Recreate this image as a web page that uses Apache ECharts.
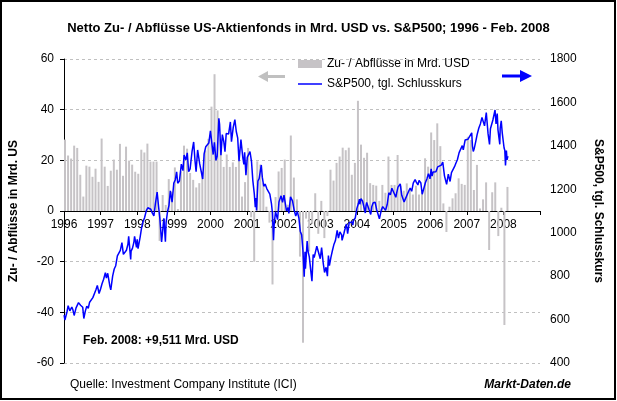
<!DOCTYPE html>
<html>
<head>
<meta charset="utf-8">
<script src="https://cdn.jsdelivr.net/npm/echarts@6/dist/echarts.min.js"></script>
<style>
  html, body { margin: 0; padding: 0; background: #fff; }
  #chart { width: 617px; height: 401px; }
</style>
</head>
<body>
<div id="chart"></div>
<script>
  // Monatliche Netto-Zu-/Abflüsse US-Aktienfonds (Mrd. USD), ab Jan. 1996
  var flowStartYear = 1996;
  var fundFlows = [
    28.2, 21.9, 20.7, 25.8, 24.9, 14.3, 5.7, 17.9, 17.5, 13.5, 16.7, 11.5,   // 1996
    28.6, 17.5, 9.9, 15.9, 20.3, 16.3, 26.5, 13.9, 25.4, 19.9, 18.3, 15.5,   // 1997
    14.7, 24.2, 23.1, 26.6, 19.5, 19.5, 19.5, -11.8, 6.3, 2.4, 12.6, 7.6,    // 1998
    17.2, 0.8, 15.6, 25.8, 24.6, 15.0, 12.3, 9.3, 11.0, 15.6, 23.9, 28.5,    // 1999
    41.2, 54.0, 39.7, 28.2, 17.4, 22.3, 17.4, 19.2, 17.4, 24.2, 5.7, 11.4,   // 2000
    24.9, -2.5, -20.0, 19.6, 18.3, 11.0, 1.7, -4.6, -29.0, 5.5, 15.6, 17.0,  // 2001
    20.3, 2.5, 29.8, 13.2, 4.6, -18.0, -52.0, -3.0, -16.0, -5.0, 7.0, -9.0,  // 2002
    4.0, -10.7, -2.0, 16.3, 12.0, 19.0, 21.5, 25.0, 24.0, 25.0, 14.3, 19.0,  // 2003
    43.5, 26.2, 21.0, 23.0, 11.0, 10.3, 10.0, 4.0, 10.3, 7.2, 21.5, 10.3,    // 2004
    10.3, 22.1, 10.0, 8.0, 10.9, 8.5, 6.5, 10.0, 6.5, 7.5, 20.8, 17.5,       // 2005
    31.0, 28.0, 34.6, 25.6, 3.0, -8.3, 1.7, 5.0, 7.0, 12.9, 10.7, 10.3,      // 2006
    29.3, 28.0, 8.3, 18.2, 1.0, 4.6, 11.3, -15.4, 7.4, 11.3, -9.9, 1.3,      // 2007
    -45.0, 9.5                                                               // 2008
  ];

  // S&P500 Schlusskurse (Auswahl)
  var spx = [
    ['1996-01-02', 621], ['1996-01-10', 598], ['1996-01-31', 636], ['1996-02-12', 664], ['1996-02-29', 640],
    ['1996-03-08', 633], ['1996-03-18', 658], ['1996-03-29', 645], ['1996-04-11', 619], ['1996-04-30', 654],
    ['1996-05-10', 652], ['1996-05-24', 678], ['1996-06-14', 666], ['1996-06-28', 671], ['1996-07-05', 657],
    ['1996-07-16', 605], ['1996-07-31', 639], ['1996-08-15', 662], ['1996-08-30', 652], ['1996-09-13', 680],
    ['1996-09-30', 687], ['1996-10-15', 701], ['1996-10-31', 705], ['1996-11-15', 737], ['1996-11-29', 757],
    ['1996-12-05', 744], ['1996-12-16', 720], ['1996-12-31', 741],
    ['1997-01-15', 765], ['1997-01-31', 786], ['1997-02-18', 816], ['1997-02-28', 791], ['1997-03-11', 813],
    ['1997-03-31', 757], ['1997-04-11', 737], ['1997-04-30', 801], ['1997-05-15', 833], ['1997-05-30', 848],
    ['1997-06-16', 893], ['1997-06-30', 885], ['1997-07-15', 919], ['1997-07-31', 954], ['1997-08-15', 900],
    ['1997-08-29', 899], ['1997-09-15', 919], ['1997-09-30', 947], ['1997-10-07', 983], ['1997-10-27', 877],
    ['1997-10-31', 915], ['1997-11-14', 928], ['1997-11-28', 955], ['1997-12-05', 983], ['1997-12-24', 932],
    ['1997-12-31', 970],
    ['1998-01-09', 927], ['1998-01-30', 980], ['1998-02-13', 1020], ['1998-02-27', 1049], ['1998-03-13', 1069],
    ['1998-03-31', 1102], ['1998-04-15', 1115], ['1998-04-30', 1112], ['1998-05-15', 1108], ['1998-05-29', 1091],
    ['1998-06-15', 1077], ['1998-06-30', 1134], ['1998-07-17', 1187], ['1998-07-31', 1121], ['1998-08-14', 1063],
    ['1998-08-31', 957], ['1998-09-10', 959], ['1998-09-23', 1066], ['1998-09-30', 1017], ['1998-10-08', 959],
    ['1998-10-15', 1047], ['1998-10-30', 1099], ['1998-11-13', 1125], ['1998-11-27', 1193], ['1998-12-14', 1141],
    ['1998-12-31', 1229],
    ['1999-01-15', 1243], ['1999-01-29', 1280], ['1999-02-09', 1228], ['1999-02-26', 1238], ['1999-03-15', 1316],
    ['1999-03-31', 1286], ['1999-04-12', 1358], ['1999-04-30', 1335], ['1999-05-13', 1368], ['1999-05-27', 1281],
    ['1999-06-11', 1294], ['1999-06-30', 1373], ['1999-07-16', 1418], ['1999-07-30', 1329], ['1999-08-10', 1281],
    ['1999-08-25', 1381], ['1999-09-15', 1318], ['1999-09-30', 1283], ['1999-10-15', 1247], ['1999-10-29', 1363],
    ['1999-11-15', 1396], ['1999-11-30', 1389], ['1999-12-15', 1413], ['1999-12-31', 1469],
    ['2000-01-14', 1465], ['2000-01-28', 1360], ['2000-02-10', 1416], ['2000-02-25', 1333], ['2000-03-07', 1352],
    ['2000-03-24', 1527], ['2000-03-31', 1499], ['2000-04-14', 1357], ['2000-04-28', 1452], ['2000-05-12', 1420],
    ['2000-05-24', 1373], ['2000-06-06', 1457], ['2000-06-30', 1455], ['2000-07-17', 1510], ['2000-07-28', 1419],
    ['2000-08-15', 1485], ['2000-09-01', 1521], ['2000-09-15', 1466], ['2000-09-29', 1437], ['2000-10-12', 1329],
    ['2000-10-31', 1429], ['2000-11-06', 1432], ['2000-11-20', 1343], ['2000-11-30', 1315], ['2000-12-07', 1370],
    ['2000-12-20', 1265], ['2000-12-29', 1320],
    ['2001-01-03', 1347], ['2001-01-30', 1374], ['2001-02-15', 1326], ['2001-02-28', 1240], ['2001-03-12', 1180],
    ['2001-03-22', 1118], ['2001-03-30', 1160], ['2001-04-04', 1103], ['2001-04-18', 1238], ['2001-04-30', 1249],
    ['2001-05-21', 1312], ['2001-05-31', 1256], ['2001-06-15', 1214], ['2001-06-29', 1224], ['2001-07-16', 1202],
    ['2001-07-31', 1211], ['2001-08-15', 1178], ['2001-08-31', 1134], ['2001-09-10', 1093], ['2001-09-21', 966],
    ['2001-09-28', 1041], ['2001-10-11', 1097], ['2001-10-31', 1060], ['2001-11-15', 1142], ['2001-11-30', 1139],
    ['2001-12-05', 1170], ['2001-12-20', 1140], ['2001-12-31', 1148],
    ['2002-01-04', 1173], ['2002-01-29', 1100], ['2002-02-14', 1116], ['2002-02-22', 1089], ['2002-03-08', 1165],
    ['2002-03-19', 1170], ['2002-03-28', 1147], ['2002-04-15', 1102], ['2002-04-30', 1077], ['2002-05-15', 1098],
    ['2002-05-31', 1067], ['2002-06-14', 1007], ['2002-06-28', 990], ['2002-07-10', 921], ['2002-07-23', 797],
    ['2002-07-31', 912], ['2002-08-05', 834], ['2002-08-22', 962], ['2002-08-30', 916], ['2002-09-13', 889],
    ['2002-09-30', 815], ['2002-10-09', 777], ['2002-10-21', 900], ['2002-10-31', 886], ['2002-11-27', 938],
    ['2002-12-02', 935], ['2002-12-31', 880],
    ['2003-01-14', 931], ['2003-01-31', 856], ['2003-02-13', 817], ['2003-02-28', 841], ['2003-03-11', 800],
    ['2003-03-21', 895], ['2003-03-31', 848], ['2003-04-15', 885], ['2003-04-30', 917], ['2003-05-15', 946],
    ['2003-05-30', 964], ['2003-06-17', 1011], ['2003-06-30', 975], ['2003-07-14', 1004], ['2003-07-31', 990],
    ['2003-08-05', 965], ['2003-08-22', 994], ['2003-08-29', 1008], ['2003-09-18', 1040], ['2003-09-30', 996],
    ['2003-10-15', 1046], ['2003-10-31', 1051], ['2003-11-14', 1050], ['2003-11-21', 1035], ['2003-11-28', 1058],
    ['2003-12-15', 1068], ['2003-12-31', 1112],
    ['2004-01-15', 1133], ['2004-01-26', 1155], ['2004-01-30', 1131], ['2004-02-11', 1157], ['2004-02-27', 1145],
    ['2004-03-08', 1147], ['2004-03-24', 1091], ['2004-03-31', 1126], ['2004-04-07', 1139], ['2004-04-19', 1135],
    ['2004-04-30', 1107], ['2004-05-17', 1084], ['2004-05-28', 1121], ['2004-06-10', 1137], ['2004-06-23', 1145],
    ['2004-06-30', 1141], ['2004-07-15', 1107], ['2004-07-30', 1102], ['2004-08-12', 1064], ['2004-08-31', 1104],
    ['2004-09-15', 1120], ['2004-09-30', 1115], ['2004-10-13', 1103], ['2004-10-25', 1095], ['2004-10-29', 1130],
    ['2004-11-15', 1184], ['2004-11-30', 1174], ['2004-12-15', 1205], ['2004-12-30', 1213],
    ['2005-01-03', 1202], ['2005-01-24', 1163], ['2005-01-31', 1181], ['2005-02-15', 1210], ['2005-02-28', 1204],
    ['2005-03-07', 1225], ['2005-03-22', 1172], ['2005-03-31', 1181], ['2005-04-15', 1142], ['2005-04-20', 1138],
    ['2005-04-29', 1157], ['2005-05-13', 1154], ['2005-05-31', 1192], ['2005-06-15', 1206], ['2005-06-30', 1191],
    ['2005-07-15', 1228], ['2005-07-29', 1234], ['2005-08-03', 1245], ['2005-08-15', 1233], ['2005-08-31', 1220],
    ['2005-09-12', 1241], ['2005-09-30', 1229], ['2005-10-13', 1177], ['2005-10-31', 1207], ['2005-11-15', 1231],
    ['2005-11-30', 1249], ['2005-12-14', 1272], ['2005-12-30', 1248],
    ['2006-01-11', 1294], ['2006-01-20', 1261], ['2006-01-31', 1280], ['2006-02-15', 1280], ['2006-02-28', 1281],
    ['2006-03-15', 1303], ['2006-03-31', 1295], ['2006-04-21', 1311], ['2006-05-05', 1325], ['2006-05-22', 1262],
    ['2006-05-31', 1270], ['2006-06-13', 1223], ['2006-06-30', 1270], ['2006-07-17', 1236], ['2006-07-31', 1277],
    ['2006-08-15', 1285], ['2006-08-31', 1304], ['2006-09-15', 1321], ['2006-09-29', 1336], ['2006-10-16', 1369],
    ['2006-10-31', 1378], ['2006-11-17', 1401], ['2006-11-27', 1382], ['2006-12-15', 1427], ['2006-12-29', 1418],
    ['2007-01-12', 1430], ['2007-01-31', 1438], ['2007-02-20', 1460], ['2007-02-27', 1400], ['2007-03-05', 1374],
    ['2007-03-15', 1388], ['2007-03-30', 1421], ['2007-04-13', 1452], ['2007-04-30', 1482], ['2007-05-15', 1501],
    ['2007-05-31', 1531], ['2007-06-04', 1540], ['2007-06-14', 1522], ['2007-06-26', 1492], ['2007-06-29', 1503],
    ['2007-07-13', 1553], ['2007-07-19', 1553], ['2007-07-31', 1455], ['2007-08-10', 1453], ['2007-08-15', 1407],
    ['2007-08-24', 1479], ['2007-08-31', 1474], ['2007-09-18', 1519], ['2007-09-28', 1527], ['2007-10-09', 1565],
    ['2007-10-19', 1501], ['2007-10-31', 1549], ['2007-11-08', 1474], ['2007-11-26', 1407], ['2007-11-30', 1481],
    ['2007-12-10', 1515], ['2007-12-20', 1460], ['2007-12-31', 1468],
    ['2008-01-08', 1390], ['2008-01-15', 1380], ['2008-01-22', 1310], ['2008-01-31', 1378], ['2008-02-07', 1336],
    ['2008-02-14', 1349], ['2008-02-15', 1353]
  ];

  var xMin = 1996, xMax = 2009;
  var leftTicks = { min: -60, max: 60, step: 20 };
  var rightTicks = { min: 400, max: 1800, step: 200 };

  function toYear(s) {
    var p = s.split('-');
    return +p[0] + (+p[1] - 1) / 12 + (+p[2] - 1) / 365;
  }

  var flowData = fundFlows.map(function (v, i) {
    return [flowStartYear + i / 12 + 1 / 36, v];
  });
  var spxData = spx.map(function (p) { return [toYear(p[0]), p[1]]; });

  var font = "'Liberation Sans', Arial, sans-serif";
  var myChart = echarts.init(document.getElementById('chart'), null, { renderer: 'canvas' });

  myChart.setOption({
    animation: false,
    backgroundColor: '#fff',
    textStyle: { fontFamily: font },
    title: {
      text: '{b|Netto Zu- / Abflüsse US-Aktienfonds }{n|in Mrd. USD }{b|vs. S&P500; 1996 - Feb. 2008}',
      left: 'center',
      top: 16,
      textStyle: {
        fontSize: 13,
        lineHeight: 15,
        rich: {
          b: { fontFamily: font, fontSize: 13, lineHeight: 15, fontWeight: 'bold', color: '#000' },
          n: { fontFamily: font, fontSize: 13, lineHeight: 15, color: '#000' }
        }
      }
    },
    legend: {
      orient: 'vertical',
      left: 293,
      top: 53,
      itemWidth: 24,
      itemHeight: 8,
      itemGap: 8,
      textStyle: { fontFamily: font, fontSize: 12, color: '#000' },
      data: [
        { name: 'Zu- / Abflüsse in Mrd. USD', icon: 'rect' },
        { name: 'S&P500, tgl. Schlusskurs', icon: 'path://M0,0L24,0L24,1.5L0,1.5Z' }
      ]
    },
    grid: { left: 64, top: 59, width: 476, height: 304 },
    xAxis: {
      type: 'value',
      min: xMin,
      max: xMax,
      interval: 1,
      position: 'bottom',
      offset: -152,
      axisLine: { onZero: false, lineStyle: { color: '#000', width: 1 } },
      axisTick: { show: true, length: 4, lineStyle: { color: '#000' } },
      axisLabel: {
        margin: 8,
        fontSize: 12,
        color: '#000',
        fontFamily: font,
        formatter: function (v) { return v === xMax ? '' : String(v); }
      },
      splitLine: { show: false }
    },
    yAxis: [
      {
        type: 'value',
        min: leftTicks.min,
        max: leftTicks.max,
        interval: leftTicks.step,
        name: 'Zu- / Abflüsse in Mrd. US',
        nameLocation: 'middle',
        nameRotate: 90,
        nameGap: 44,
        nameTextStyle: { fontFamily: font, fontSize: 12, fontWeight: 'bold', color: '#000' },
        axisLine: { show: true, onZero: false, lineStyle: { color: '#000', width: 1 } },
        axisTick: { show: true, length: 4, lineStyle: { color: '#000' } },
        axisLabel: { margin: 10, fontSize: 12, color: '#000', fontFamily: font,
          formatter: function (v) { return String(v); } },
        splitLine: { show: true, lineStyle: { color: '#c0c0c0', type: [3, 3], width: 1 } }
      },
      {
        type: 'value',
        position: 'right',
        min: rightTicks.min,
        max: rightTicks.max,
        interval: rightTicks.step,
        name: 'S&P500, tgl. Schlusskurs',
        nameLocation: 'middle',
        nameRotate: -90,
        nameGap: 52,
        nameTextStyle: { fontFamily: font, fontSize: 12, fontWeight: 'bold', color: '#000' },
        axisLine: { show: false },
        axisTick: { show: false },
        axisLabel: { margin: 10, fontSize: 12, color: '#000', fontFamily: font,
          formatter: function (v) { return String(v); } },
        splitLine: { show: false }
      }
    ],
    series: [
      {
        name: 'Zu- / Abflüsse in Mrd. USD',
        type: 'bar',
        yAxisIndex: 0,
        barWidth: 2,
        itemStyle: { color: '#c6c3c6' },
        data: flowData,
        z: 2
      },
      {
        name: 'S&P500, tgl. Schlusskurs',
        type: 'line',
        yAxisIndex: 1,
        symbol: 'none',
        lineStyle: { color: '#0000ff', width: 1.5 },
        itemStyle: { color: '#0000ff' },
        data: spxData,
        z: 3
      }
    ],
    graphic: [
      // Rahmen
      { type: 'rect', shape: { x: 1, y: 1, width: 614, height: 398 },
        style: { fill: 'none', stroke: '#000', lineWidth: 2 }, silent: true },
      // Pfeil links (grau)
      { type: 'rect', shape: { x: 266, y: 75, width: 19, height: 3 }, style: { fill: '#c0c0c0' } },
      { type: 'polygon', shape: { points: [[258, 76.5], [268, 71], [268, 82]] }, style: { fill: '#c0c0c0' } },
      // Pfeil rechts (blau)
      { type: 'rect', shape: { x: 502, y: 74.5, width: 19, height: 3 }, style: { fill: '#0000ff' } },
      { type: 'polygon', shape: { points: [[532, 76], [520, 70], [520, 82]] }, style: { fill: '#0000ff' } },
      // Anmerkung
      { type: 'text', left: 83, top: 335,
        style: { text: 'Feb. 2008: +9,511 Mrd. USD', font: 'bold 12px ' + font, fill: '#000' } },
      // Quelle
      { type: 'text', left: 70, top: 379,
        style: { text: 'Quelle: Investment Company Institute (ICI)', font: '12px ' + font, fill: '#000' } },
      { type: 'text', right: 46, top: 379,
        style: { text: 'Markt-Daten.de', font: 'italic bold 12px ' + font, fill: '#000' } }
    ]
  });
</script>
</body>
</html>
